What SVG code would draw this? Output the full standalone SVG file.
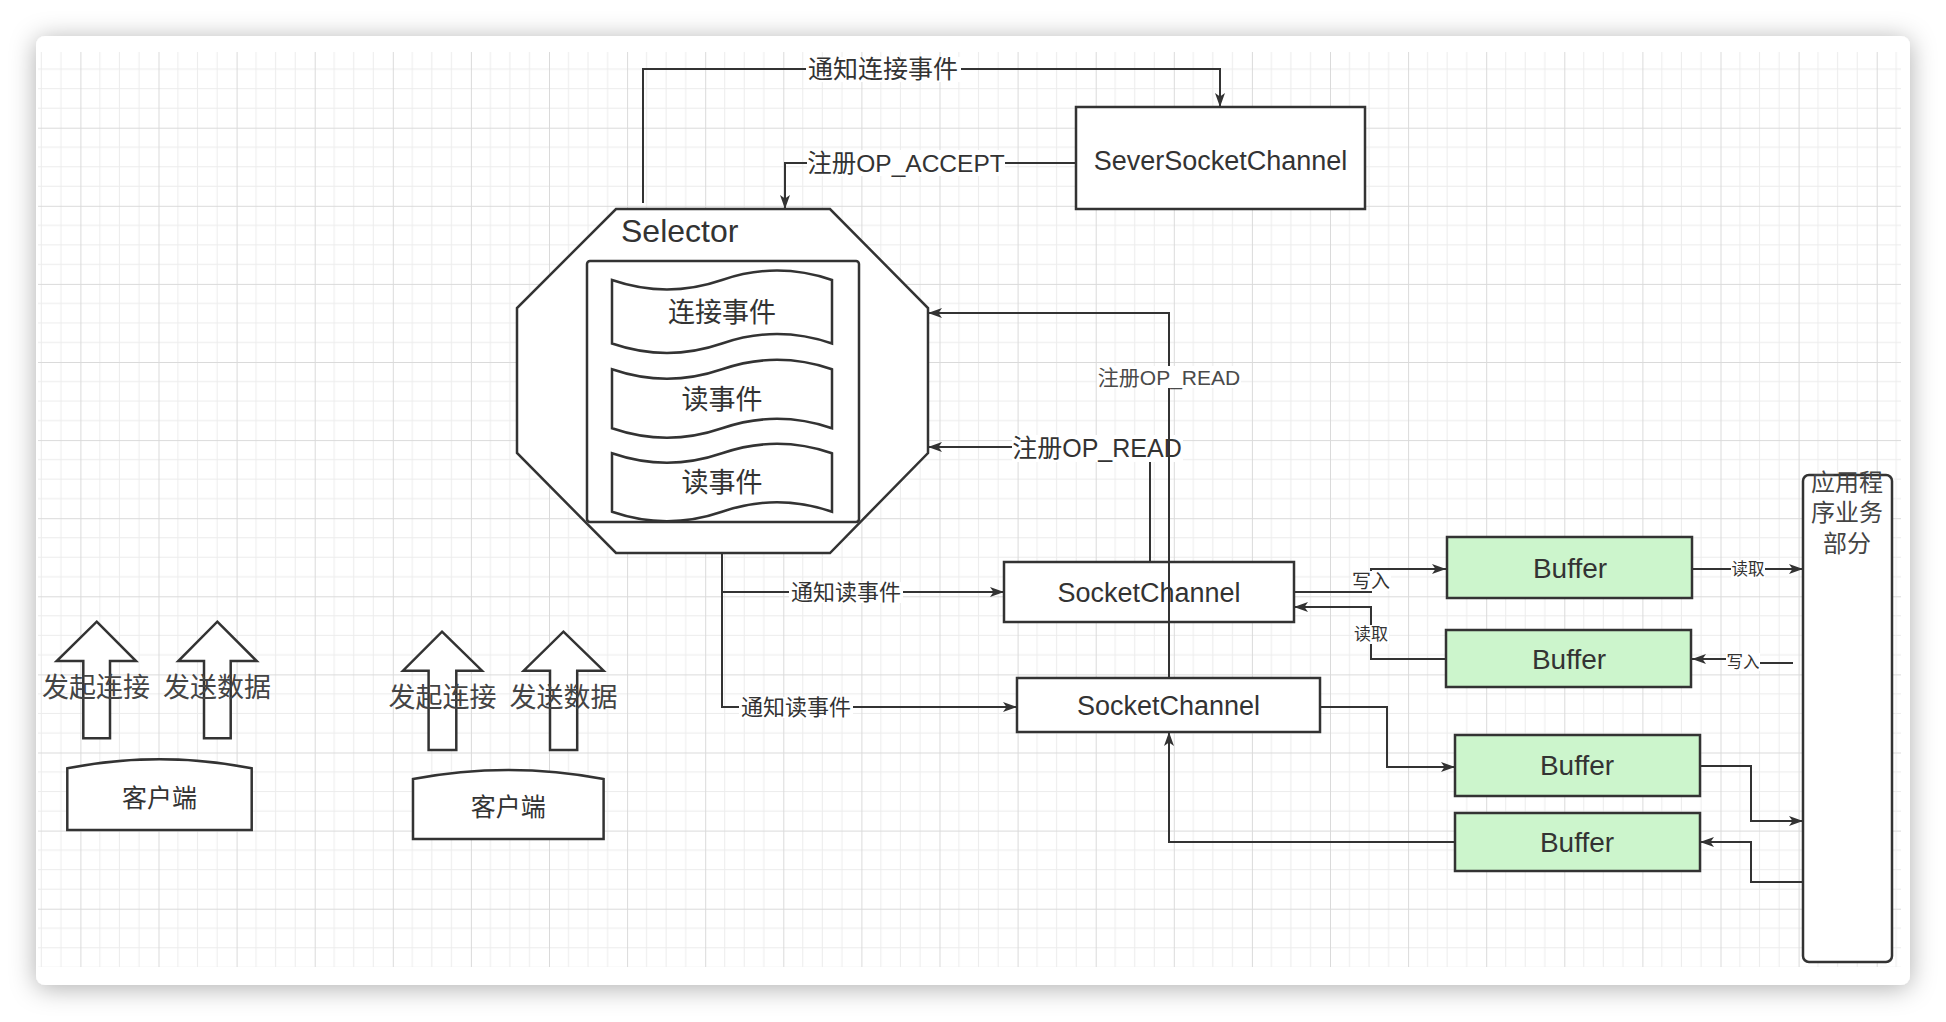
<svg xmlns="http://www.w3.org/2000/svg" width="1946" height="1022" viewBox="0 0 1946 1022">
<defs>
<style>
.t{font-family:'Liberation Sans','Noto Sans CJK SC',sans-serif;fill:#333;text-anchor:middle;dominant-baseline:central}
.shape{fill:#fff;stroke:#333;stroke-width:2.5}
.buf{fill:#ccf5cc;stroke:#333;stroke-width:2.5}
.edge{fill:none;stroke:#333;stroke-width:2}
.arr{marker-end:url(#arrow)}
.lbg{fill:#fff}
</style>
<marker id="arrow" viewBox="0 0 14 10" refX="14" refY="5" markerWidth="14" markerHeight="10" orient="auto" markerUnits="userSpaceOnUse">
<path d="M0,0 L14,5 L0,10 L3.5,5 z" fill="#333"/>
</marker>
<filter id="shadow" x="-5%" y="-10%" width="110%" height="120%">
<feDropShadow dx="0" dy="3" stdDeviation="13" flood-color="#000" flood-opacity="0.32"/>
</filter>
<pattern id="grid" x="2.3" y="49.6" width="78.1" height="78.1" patternUnits="userSpaceOnUse">
<path d="M19.5 0V78.1M39 0V78.1M58.6 0V78.1M0 19.5H78.1M0 39H78.1M0 58.6H78.1" stroke="#ececec" stroke-width="1"/>
<path d="M0.5 0V78.1M0 0.5H78.1" stroke="#dadada" stroke-width="1"/>
</pattern>
</defs>
<rect width="1946" height="1022" fill="#fff"/>
<rect id="card" x="36" y="36" width="1874" height="949" rx="9" fill="#fff" filter="url(#shadow)"/>
<rect x="38" y="52" width="1863" height="915" fill="url(#grid)"/>

<g id="selector">
<polygon class="shape" points="616,209 830,209 928,308 928,453 830,553 616,553 517,453 517,308"/>
<text x="621" y="242" font-size="32" style="font-family:'Liberation Sans','Noto Sans CJK SC',sans-serif;fill:#333">Selector</text>
<rect class="shape" x="587" y="261" width="272" height="261" rx="3"/>
</g>
<g id="event-connect">
<path class="shape" d="M612,280 Q667,298.9 722,280 Q777,261.1 832,280 L832,343.5 Q777,324.6 722,343.5 Q667,362.4 612,343.5 Z"/>
<text class="t" x="722" y="313" font-size="27">连接事件</text>
</g>
<g id="event-read-1">
<path class="shape" d="M612,369.3 Q667,388.2 722,369.3 Q777,350.4 832,369.3 L832,428.3 Q777,409.4 722,428.3 Q667,447.2 612,428.3 Z"/>
<text class="t" x="722" y="400" font-size="27">读事件</text>
</g>
<g id="event-read-2">
<path class="shape" d="M612,453.3 Q667,472.2 722,453.3 Q777,434.4 832,453.3 L832,511.7 Q777,492.8 722,511.7 Q667,530.6 612,511.7 Z"/>
<text class="t" x="722" y="483" font-size="27">读事件</text>
</g>

<g id="server-socket-channel">
<rect class="shape" x="1076" y="107" width="289" height="102"/>
<text class="t" x="1220.5" y="161" font-size="27">SeverSocketChannel</text>
</g>

<g id="socket-channel-1">
<rect class="shape" x="1004" y="562" width="290" height="60"/>
<text class="t" x="1149" y="593" font-size="27">SocketChannel</text>
</g>
<g id="socket-channel-2">
<rect class="shape" x="1017" y="678" width="303" height="54"/>
<text class="t" x="1168.5" y="706" font-size="27">SocketChannel</text>
</g>

<g id="buffer-1">
<rect class="buf" x="1447" y="537" width="245" height="61"/>
<text class="t" x="1570" y="568" font-size="28">Buffer</text>
</g>
<g id="buffer-2">
<rect class="buf" x="1446" y="630" width="245" height="57"/>
<text class="t" x="1569" y="659" font-size="28">Buffer</text>
</g>
<g id="buffer-3">
<rect class="buf" x="1455" y="735" width="245" height="61"/>
<text class="t" x="1577" y="765" font-size="28">Buffer</text>
</g>
<g id="buffer-4">
<rect class="buf" x="1455" y="813" width="245" height="58"/>
<text class="t" x="1577" y="842" font-size="28">Buffer</text>
</g>

<g id="app">
<rect class="shape" x="1803" y="475" width="89" height="487" rx="6"/>
<text class="t" x="1847" y="482" font-size="24" style="fill:#444">应用程</text>
<text class="t" x="1847" y="512" font-size="24" style="fill:#444">序业务</text>
<text class="t" x="1847" y="543" font-size="24" style="fill:#444">部分</text>
</g>

<g id="client-1">
<polygon class="shape" points="96.7,621.7 136,661 110,661 110,738.3 83.3,738.3 83.3,661 56.7,661"/>
<polygon class="shape" points="217.3,621.7 256.7,661 230.7,661 230.7,738.3 204,738.3 204,661 178.3,661"/>
<text class="t" x="96" y="688" font-size="27" style="fill:#444">发起连接</text>
<text class="t" x="217" y="688" font-size="27" style="fill:#444">发送数据</text>
<path class="shape" d="M67.3,768.3 Q159.5,750.3 251.7,768.3 V830 H67.3 Z"/>
<text class="t" x="159.5" y="798" font-size="25">客户端</text>
</g>
<g id="client-2">
<polygon class="shape" points="442,631.7 482,670.7 456.3,670.7 456.3,750 428.6,750 428.6,670.7 403,670.7"/>
<polygon class="shape" points="563.4,631.7 603.6,670.7 577.2,670.7 577.2,750 550,750 550,670.7 523.7,670.7"/>
<text class="t" x="442.4" y="698" font-size="27" style="fill:#444">发起连接</text>
<text class="t" x="563.6" y="698" font-size="27" style="fill:#444">发送数据</text>
<path class="shape" d="M413,779 Q508.3,761 603.6,779 V839 H413 Z"/>
<text class="t" x="508.3" y="807" font-size="25">客户端</text>
</g>

<g id="connectors">
<path class="edge arr" d="M643,203 V69 H1220 V107"/>
<rect class="lbg" x="806" y="57" width="155" height="25"/>
<text class="t" x="883" y="69" font-size="25">通知连接事件</text>

<path class="edge arr" d="M1076,163 H785 V209"/>
<rect class="lbg" x="807" y="150" width="198" height="26"/>
<text class="t" x="906" y="163" font-size="24.5">注册OP_ACCEPT</text>

<path class="edge arr" d="M1150,562 V447 H928"/>
<rect class="lbg" x="1012" y="435" width="171" height="27"/>
<text class="t" x="1097" y="448" font-size="25">注册OP_READ</text>

<path class="edge arr" d="M1169,678 V313 H928"/>
<rect class="lbg" x="1097" y="366" width="144" height="22"/>
<text class="t" x="1169" y="377" font-size="21" style="fill:#4a4a4a">注册OP_READ</text>

<path class="edge arr" d="M722,553 V592 H1004"/>
<path class="edge arr" d="M722,592 V707 H1017"/>
<rect class="lbg" x="789" y="582" width="114" height="21"/>
<text class="t" x="846" y="592" font-size="22">通知读事件</text>
<rect class="lbg" x="739" y="697" width="114" height="21"/>
<text class="t" x="796" y="707" font-size="22">通知读事件</text>

<path class="edge arr" d="M1294,592 H1371 V569 H1446"/>
<rect class="lbg" x="1351" y="571" width="40" height="20"/>
<text class="t" x="1371" y="581" font-size="19">写入</text>

<path class="edge arr" d="M1446,659 H1371 V607 H1294"/>
<rect class="lbg" x="1354" y="625" width="35" height="19"/>
<text class="t" x="1371" y="634" font-size="17">读取</text>

<path class="edge arr" d="M1692,569 H1803"/>
<rect class="lbg" x="1731" y="560" width="34" height="18"/>
<text class="t" x="1748" y="569" font-size="16.5">读取</text>

<path class="edge arr" d="M1793,663 H1743 V659 H1692"/>
<rect class="lbg" x="1726" y="653" width="34" height="18"/>
<text class="t" x="1743" y="662" font-size="16.5">写入</text>

<path class="edge arr" d="M1320,707 H1387 V767 H1455"/>
<path class="edge arr" d="M1700,766 H1751 V821 H1803"/>
<path class="edge arr" d="M1803,882 H1751 V842 H1700"/>
<path class="edge arr" d="M1455,842 H1169 V732"/>
</g>
</svg>
